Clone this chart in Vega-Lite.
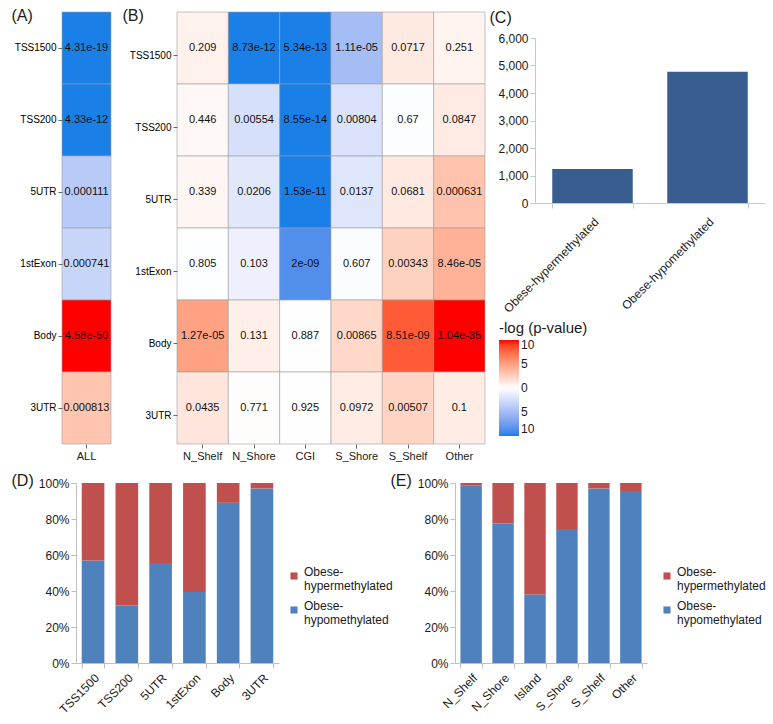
{
  "$schema": "https://vega.github.io/schema/vega-lite/v6.json",
  "background": "white",
  "padding": {"left": 11, "top": 7, "right": 0, "bottom": 0},
  "config": {
    "font": "Liberation Sans",
    "view": {"stroke": null},
    "axis": {"labelFont": "Liberation Sans", "titleFont": "Liberation Sans", "labelColor": "#1a1a1a", "titleColor": "#1a1a1a", "grid": false},
    "legend": {"labelFont": "Liberation Sans", "titleFont": "Liberation Sans", "labelColor": "#1a1a1a", "titleColor": "#1a1a1a"}
  },
  "datasets": {
    "ha": [
      {"r": "TSS1500", "c": "ALL", "p": "4.31e-19", "v": -18.37},
      {"r": "TSS200", "c": "ALL", "p": "4.33e-12", "v": -11.36},
      {"r": "5UTR", "c": "ALL", "p": "0.000111", "v": -3.95},
      {"r": "1stExon", "c": "ALL", "p": "0.000741", "v": -3.13},
      {"r": "Body", "c": "ALL", "p": "4.58e-50", "v": 49.34},
      {"r": "3UTR", "c": "ALL", "p": "0.000813", "v": 3.09}
    ],
    "hb": [
      {"r": "TSS1500", "c": "N_Shelf", "p": "0.209", "v": 0.68},
      {"r": "TSS1500", "c": "N_Shore", "p": "8.73e-12", "v": -11.06},
      {"r": "TSS1500", "c": "CGI", "p": "5.34e-13", "v": -12.27},
      {"r": "TSS1500", "c": "S_Shore", "p": "1.11e-05", "v": -4.95},
      {"r": "TSS1500", "c": "S_Shelf", "p": "0.0717", "v": 1.14},
      {"r": "TSS1500", "c": "Other", "p": "0.251", "v": 0.6},
      {"r": "TSS200", "c": "N_Shelf", "p": "0.446", "v": 0.35},
      {"r": "TSS200", "c": "N_Shore", "p": "0.00554", "v": -2.26},
      {"r": "TSS200", "c": "CGI", "p": "8.55e-14", "v": -13.07},
      {"r": "TSS200", "c": "S_Shore", "p": "0.00804", "v": -2.09},
      {"r": "TSS200", "c": "S_Shelf", "p": "0.67", "v": -0.17},
      {"r": "TSS200", "c": "Other", "p": "0.0847", "v": 1.07},
      {"r": "5UTR", "c": "N_Shelf", "p": "0.339", "v": 0.47},
      {"r": "5UTR", "c": "N_Shore", "p": "0.0206", "v": -1.69},
      {"r": "5UTR", "c": "CGI", "p": "1.53e-11", "v": -10.82},
      {"r": "5UTR", "c": "S_Shore", "p": "0.0137", "v": -1.86},
      {"r": "5UTR", "c": "S_Shelf", "p": "0.0681", "v": 1.17},
      {"r": "5UTR", "c": "Other", "p": "0.000631", "v": 3.2},
      {"r": "1stExon", "c": "N_Shelf", "p": "0.805", "v": -0.09},
      {"r": "1stExon", "c": "N_Shore", "p": "0.103", "v": -0.99},
      {"r": "1stExon", "c": "CGI", "p": "2e-09", "v": -8.7},
      {"r": "1stExon", "c": "S_Shore", "p": "0.607", "v": -0.22},
      {"r": "1stExon", "c": "S_Shelf", "p": "0.00343", "v": 2.46},
      {"r": "1stExon", "c": "Other", "p": "8.46e-05", "v": 4.07},
      {"r": "Body", "c": "N_Shelf", "p": "1.27e-05", "v": 4.9},
      {"r": "Body", "c": "N_Shore", "p": "0.131", "v": 0.88},
      {"r": "Body", "c": "CGI", "p": "0.887", "v": 0.05},
      {"r": "Body", "c": "S_Shore", "p": "0.00865", "v": 2.06},
      {"r": "Body", "c": "S_Shelf", "p": "8.51e-09", "v": 8.07},
      {"r": "Body", "c": "Other", "p": "1.04e-35", "v": 34.98},
      {"r": "3UTR", "c": "N_Shelf", "p": "0.0435", "v": 1.36},
      {"r": "3UTR", "c": "N_Shore", "p": "0.771", "v": 0.11},
      {"r": "3UTR", "c": "CGI", "p": "0.925", "v": 0.03},
      {"r": "3UTR", "c": "S_Shore", "p": "0.0972", "v": 1.01},
      {"r": "3UTR", "c": "S_Shelf", "p": "0.00507", "v": 2.29},
      {"r": "3UTR", "c": "Other", "p": "0.1", "v": 1.0}
    ],
    "cc": [
      {"g": "Obese-hypermethylated", "n": 1240},
      {"g": "Obese-hypomethylated", "n": 4770}
    ],
    "dd": [
      {"k": "TSS1500", "g": "Obese-hypomethylated", "f": 0.57},
      {"k": "TSS1500", "g": "Obese-hypermethylated", "f": 0.43},
      {"k": "TSS200", "g": "Obese-hypomethylated", "f": 0.32},
      {"k": "TSS200", "g": "Obese-hypermethylated", "f": 0.68},
      {"k": "5UTR", "g": "Obese-hypomethylated", "f": 0.555},
      {"k": "5UTR", "g": "Obese-hypermethylated", "f": 0.445},
      {"k": "1stExon", "g": "Obese-hypomethylated", "f": 0.395},
      {"k": "1stExon", "g": "Obese-hypermethylated", "f": 0.605},
      {"k": "Body", "g": "Obese-hypomethylated", "f": 0.89},
      {"k": "Body", "g": "Obese-hypermethylated", "f": 0.11},
      {"k": "3UTR", "g": "Obese-hypomethylated", "f": 0.97},
      {"k": "3UTR", "g": "Obese-hypermethylated", "f": 0.03}
    ],
    "ee": [
      {"k": "N_Shelf", "g": "Obese-hypomethylated", "f": 0.985},
      {"k": "N_Shelf", "g": "Obese-hypermethylated", "f": 0.015},
      {"k": "N_Shore", "g": "Obese-hypomethylated", "f": 0.775},
      {"k": "N_Shore", "g": "Obese-hypermethylated", "f": 0.225},
      {"k": "Island", "g": "Obese-hypomethylated", "f": 0.38},
      {"k": "Island", "g": "Obese-hypermethylated", "f": 0.62},
      {"k": "S_Shore", "g": "Obese-hypomethylated", "f": 0.745},
      {"k": "S_Shore", "g": "Obese-hypermethylated", "f": 0.255},
      {"k": "S_Shelf", "g": "Obese-hypomethylated", "f": 0.97},
      {"k": "S_Shelf", "g": "Obese-hypermethylated", "f": 0.03},
      {"k": "Other", "g": "Obese-hypomethylated", "f": 0.955},
      {"k": "Other", "g": "Obese-hypermethylated", "f": 0.045}
    ]
  },
  "resolve": {"scale": {"color": "independent"}, "legend": {"color": "independent"}},
  "align": "none",
  "spacing": 11,
  "vconcat": [
    {
      "spacing": 3,
      "resolve": {"scale": {"color": "independent"}, "legend": {"color": "independent"}},
      "hconcat": [
        {
          "width": 49,
          "height": 432,
          "data": {"name": "ha"},
          "encoding": {
            "x": {"field": "c", "type": "nominal", "axis": {"title": null, "labelAngle": 0, "labelFontSize": 11, "domain": false, "tickSize": 4, "tickColor": "#666", "labelPadding": 2}},
            "y": {"field": "r", "type": "nominal", "sort": ["TSS1500", "TSS200", "5UTR", "1stExon", "Body", "3UTR"],
              "axis": {"title": "(A)", "titleX": -51, "titleY": 3, "titleAngle": 0, "titleAlign": "left", "titleBaseline": "middle", "titleFontSize": 16, "titleFontWeight": "normal", "labelFontSize": 10, "labelColor": "#000", "domain": false, "tickSize": 4, "tickColor": "#666", "labelPadding": 2}}
          },
          "layer": [
            {"mark": {"type": "rect", "stroke": "#a0a0a0", "strokeWidth": 0.6},
             "encoding": {"color": {"field": "v", "type": "quantitative", "scale": {"domain": [-10, 0, 10], "range": ["#1b7fe8", "#ffffff", "#ff0000"], "interpolate": "lab", "clamp": true}, "legend": null}}},
            {"mark": {"type": "text", "fontSize": 11, "color": "#111"}, "encoding": {"text": {"field": "p", "type": "nominal"}}}
          ]
        },
        {
          "width": 308,
          "height": 432,
          "data": {"name": "hb"},
          "encoding": {
            "x": {"field": "c", "type": "nominal", "sort": ["N_Shelf", "N_Shore", "CGI", "S_Shore", "S_Shelf", "Other"], "axis": {"title": null, "labelAngle": 0, "labelFontSize": 11, "domain": false, "tickSize": 4, "tickColor": "#666", "labelPadding": 2}},
            "y": {"field": "r", "type": "nominal", "sort": ["TSS1500", "TSS200", "5UTR", "1stExon", "Body", "3UTR"],
              "axis": {"title": "(B)", "titleX": -55, "titleY": 3, "titleAngle": 0, "titleAlign": "left", "titleBaseline": "middle", "titleFontSize": 16, "titleFontWeight": "normal", "labelFontSize": 10, "labelColor": "#000", "domain": false, "tickSize": 4, "tickColor": "#666", "labelPadding": 2, "tickOffset": 7, "minExtent": 62}}
          },
          "layer": [
            {"mark": {"type": "rect", "stroke": "#a0a0a0", "strokeWidth": 0.6},
             "encoding": {"color": {"field": "v", "type": "quantitative", "scale": {"domain": [-10, 0, 10], "range": ["#1b7fe8", "#ffffff", "#ff0000"], "interpolate": "lab", "clamp": true}, "legend": null}}},
            {"mark": {"type": "text", "fontSize": 11, "color": "#111"}, "encoding": {"text": {"field": "p", "type": "nominal"}}}
          ]
        },
        {
          "width": 230,
          "height": 191,
          "layer": [
            {
              "data": {"name": "cc"},
              "mark": {"type": "bar", "color": "#375e8f"},
              "encoding": {
                "x": {"field": "g", "type": "nominal", "scale": {"paddingInner": 0.3, "paddingOuter": 0.15},
                  "axis": {"title": null, "labelAngle": -45, "tickBand": "extent", "labelFontSize": 12, "domainColor": "#c8c8c8", "tickColor": "#c8c8c8", "tickSize": 5, "labelPadding": 8}},
                "y": {"field": "n", "type": "quantitative", "scale": {"domain": [0, 6000], "range": [191, 26]},
                  "axis": {"values": [0, 1000, 2000, 3000, 4000, 5000, 6000], "format": ",d", "title": "(C)", "titleX": -46, "titleY": 5, "titleAngle": 0, "titleAlign": "left", "titleBaseline": "middle", "titleFontSize": 16, "titleFontWeight": "normal", "labelFontSize": 12, "domainColor": "#c8c8c8", "tickColor": "#c8c8c8", "tickSize": 5}}
              }
            },
            {
              "data": {"name": "hb"},
              "transform": [{"filter": "false"}],
              "mark": "rect",
              "encoding": {
                "color": {"field": "v", "type": "quantitative", "scale": {"domain": [-10, 0, 10], "range": ["#1b7fe8", "#ffffff", "#ff0000"], "interpolate": "lab", "clamp": true},
                  "legend": {"orient": "none", "legendX": -36, "legendY": 309, "direction": "vertical", "title": "-log (p-value)", "titleFontSize": 15, "titleFontWeight": "normal", "titlePadding": 4, "gradientLength": 96, "gradientThickness": 20, "values": [-10, -5, 0, 5, 10], "labelExpr": "abs(datum.value)", "labelFontSize": 12}}
              }
            }
          ]
        }
      ]
    },
    {
      "spacing": -3,
      "resolve": {"scale": {"color": "independent"}, "legend": {"color": "independent"}},
      "hconcat": [
        {
          "width": 217,
          "height": 180,
          "data": {"name": "dd"},
          "mark": {"type": "bar"},
          "encoding": {
            "x": {"field": "k", "type": "nominal", "sort": ["TSS1500", "TSS200", "5UTR", "1stExon", "Body", "3UTR"], "scale": {"paddingInner": 0.33, "paddingOuter": 0.17, "range": [14, 217]},
              "axis": {"title": null, "labelAngle": -45, "tickBand": "extent", "labelFontSize": 12, "domainColor": "#bfbfbf", "tickColor": "#bfbfbf", "tickSize": 5, "labelPadding": 4}},
            "y": {"field": "f", "type": "quantitative", "stack": "zero", "scale": {"domain": [0, 1]},
              "axis": {"offset": -14, "values": [0, 0.2, 0.4, 0.6, 0.8, 1], "format": ".0%", "title": "(D)", "titleX": -65, "titleY": -3, "titleAngle": 0, "titleAlign": "left", "titleBaseline": "middle", "titleFontSize": 16, "titleFontWeight": "normal", "labelFontSize": 12, "domainColor": "#bfbfbf", "tickColor": "#bfbfbf", "tickSize": 5}},
            "color": {"field": "g", "type": "nominal", "scale": {"domain": ["Obese-hypermethylated", "Obese-hypomethylated"], "range": ["#c0504d", "#4f81bd"]},
              "legend": {"orient": "none", "legendX": 226, "legendY": 87, "title": null, "symbolType": "square", "symbolSize": 50, "symbolStrokeWidth": 0, "labelFontSize": 12, "labelExpr": "['Obese-', substring(datum.label, 6)]", "labelBaseline": "alphabetic", "rowPadding": 8}},
            "order": {"field": "g", "sort": "descending"}
          }
        },
        {
          "width": 192,
          "height": 180,
          "data": {"name": "ee"},
          "mark": {"type": "bar"},
          "encoding": {
            "x": {"field": "k", "type": "nominal", "sort": ["N_Shelf", "N_Shore", "Island", "S_Shore", "S_Shelf", "Other"], "scale": {"paddingInner": 0.33, "paddingOuter": 0.17},
              "axis": {"title": null, "labelAngle": -45, "tickBand": "extent", "labelFontSize": 12, "domainColor": "#bfbfbf", "tickColor": "#bfbfbf", "tickSize": 5, "labelPadding": 4}},
            "y": {"field": "f", "type": "quantitative", "stack": "zero", "scale": {"domain": [0, 1]},
              "axis": {"values": [0, 0.2, 0.4, 0.6, 0.8, 1], "format": ".0%", "title": "(E)", "titleX": -65, "titleY": -3, "titleAngle": 0, "titleAlign": "left", "titleBaseline": "middle", "titleFontSize": 16, "titleFontWeight": "normal", "labelFontSize": 12, "domainColor": "#bfbfbf", "tickColor": "#bfbfbf", "tickSize": 5}},
            "color": {"field": "g", "type": "nominal", "scale": {"domain": ["Obese-hypermethylated", "Obese-hypomethylated"], "range": ["#c0504d", "#4f81bd"]},
              "legend": {"orient": "none", "legendX": 206, "legendY": 87, "title": null, "symbolType": "square", "symbolSize": 50, "symbolStrokeWidth": 0, "labelFontSize": 12, "labelExpr": "['Obese-', substring(datum.label, 6)]", "labelBaseline": "alphabetic", "rowPadding": 8}},
            "order": {"field": "g", "sort": "descending"}
          }
        }
      ]
    }
  ]
}
